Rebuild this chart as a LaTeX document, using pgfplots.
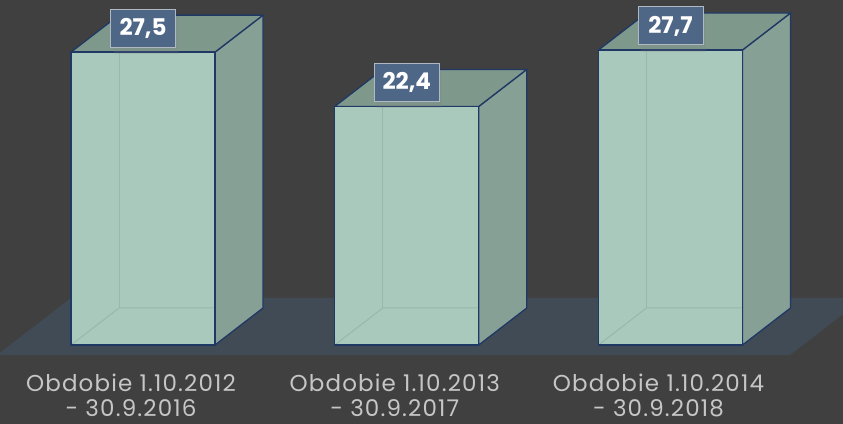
\documentclass[border=0pt]{standalone}
\usepackage{pgfplots}
\pgfplotsset{compat=1.18}
\usepackage{fontspec}
\setmainfont{Poppins}
\newfontfamily\catfont{Poppins}[LetterSpace=5]
\usetikzlibrary{shadows}
\definecolor{bgc}{HTML}{404040}
\definecolor{floorc}{HTML}{414B55}
\definecolor{frontc}{HTML}{A9C9BD}
\definecolor{sidec}{HTML}{87A096}
\definecolor{topc}{HTML}{7E988C}
\definecolor{edgec}{HTML}{1F3864}
\definecolor{faintc}{HTML}{98B8AC}
\definecolor{lblc}{HTML}{4E6787}
\definecolor{lblborder}{HTML}{B0B8C2}
\definecolor{catc}{HTML}{C6C6C6}

% half width of the front face, depth offsets (axis units)
\def\hw{0.273}
\def\ddx{0.182}
\def\ddy{3.474}

\newcommand{\backfaces}[2]{%
  \pgfmathsetmacro\xl{#1-\hw}\pgfmathsetmacro\xr{#1+\hw}%
  \pgfmathsetmacro\xbl{#1-\hw+\ddx}\pgfmathsetmacro\xbr{#1+\hw+\ddx}%
  \pgfmathsetmacro\yt{#2+\ddy}%
  \edef\tmp{\noexpand\addplot[fill=sidec,draw=edgec,line width=1.3pt,line join=round]
    coordinates {(\xr,0) (\xbr,\ddy) (\xbr,\yt) (\xr,#2) (\xr,0)};
    \noexpand\addplot[fill=topc,draw=edgec,line width=1.3pt,line join=round]
    coordinates {(\xl,#2) (\xr,#2) (\xbr,\yt) (\xbl,\yt) (\xl,#2)};}%
  \tmp}
\newcommand{\hidden}[2]{%
  \pgfmathsetmacro\xl{#1-\hw}\pgfmathsetmacro\xr{#1+\hw}%
  \pgfmathsetmacro\xbl{#1-\hw+\ddx}%
  \edef\tmp{\noexpand\addplot[draw=faintc,line width=1pt]
    coordinates {(\xl,0) (\xbl,\ddy) (\xr,\ddy)};
    \noexpand\addplot[draw=faintc,line width=1pt]
    coordinates {(\xbl,\ddy) (\xbl,#2)};}%
  \tmp}
\tikzset{catlbl/.style={overlay, anchor=base, text=catc, font=\catfont\fontsize{23}{23}\selectfont, inner sep=0pt}}

\begin{document}
\begin{tikzpicture}
\begin{axis}[
  scale only axis, width=843pt, height=424pt,
  xmin=-0.5422, xmax=2.6540, ymin=-7.418, ymax=32.394,
  axis line style={draw=none},
  xtick=\empty, ytick=\empty,
  axis background/.style={fill=bgc},
  clip=true,
  /pgf/number format/use comma,
  /pgf/number format/fixed,
  /pgf/number format/precision=1,
  /pgf/number format/fixed zerofill,
  /pgf/number format/assume math mode=true,
]
% floor
\addplot[fill=floorc,draw=none] coordinates {(-0.5536,-0.939) (2.453,-0.939) (2.734,4.413) (-0.273,4.413) (-0.5536,-0.939)};
% side and top faces
\backfaces{0}{27.5}
\backfaces{1}{22.4}
\backfaces{2}{27.7}
% front faces
\addplot[ybar, bar width=0.546, fill=frontc, draw=edgec, line width=1.3pt]
  coordinates {(0,27.5) (1,22.4) (2,27.7)};
% hidden edges seen through
\hidden{0}{27.5}
\hidden{1}{22.4}
\hidden{2}{27.7}
% redraw front outline
\addplot[ybar, bar width=0.546, fill=none, draw=edgec, line width=1.3pt]
  coordinates {(0,27.5) (1,22.4) (2,27.7)};
% value labels
\addplot[draw=none, mark=none, point meta=y, nodes near coords,
  nodes near coords style={anchor=center, yshift=24pt, fill=lblc, draw=lblborder,
    line width=1pt, text=white, font=\bfseries\fontsize{23}{23}\selectfont,
    minimum width=65pt, minimum height=38pt, inner sep=0pt,
    drop shadow={opacity=0.18, shadow xshift=3pt, shadow yshift=-7pt}}]
  coordinates {(0,27.5) (1,22.4) (2,27.7)};
% category labels
\node[catlbl] at (axis cs:-0.0455,-4.32) {Obdobie 1.10.2012};
\node[catlbl] at (axis cs:-0.0455,-6.76) {- 30.9.2016};
\node[catlbl] at (axis cs:0.9545,-4.32) {Obdobie 1.10.2013};
\node[catlbl] at (axis cs:0.9545,-6.76) {- 30.9.2017};
\node[catlbl] at (axis cs:1.9545,-4.32) {Obdobie 1.10.2014};
\node[catlbl] at (axis cs:1.9545,-6.76) {- 30.9.2018};
\end{axis}
\end{tikzpicture}
\end{document}
